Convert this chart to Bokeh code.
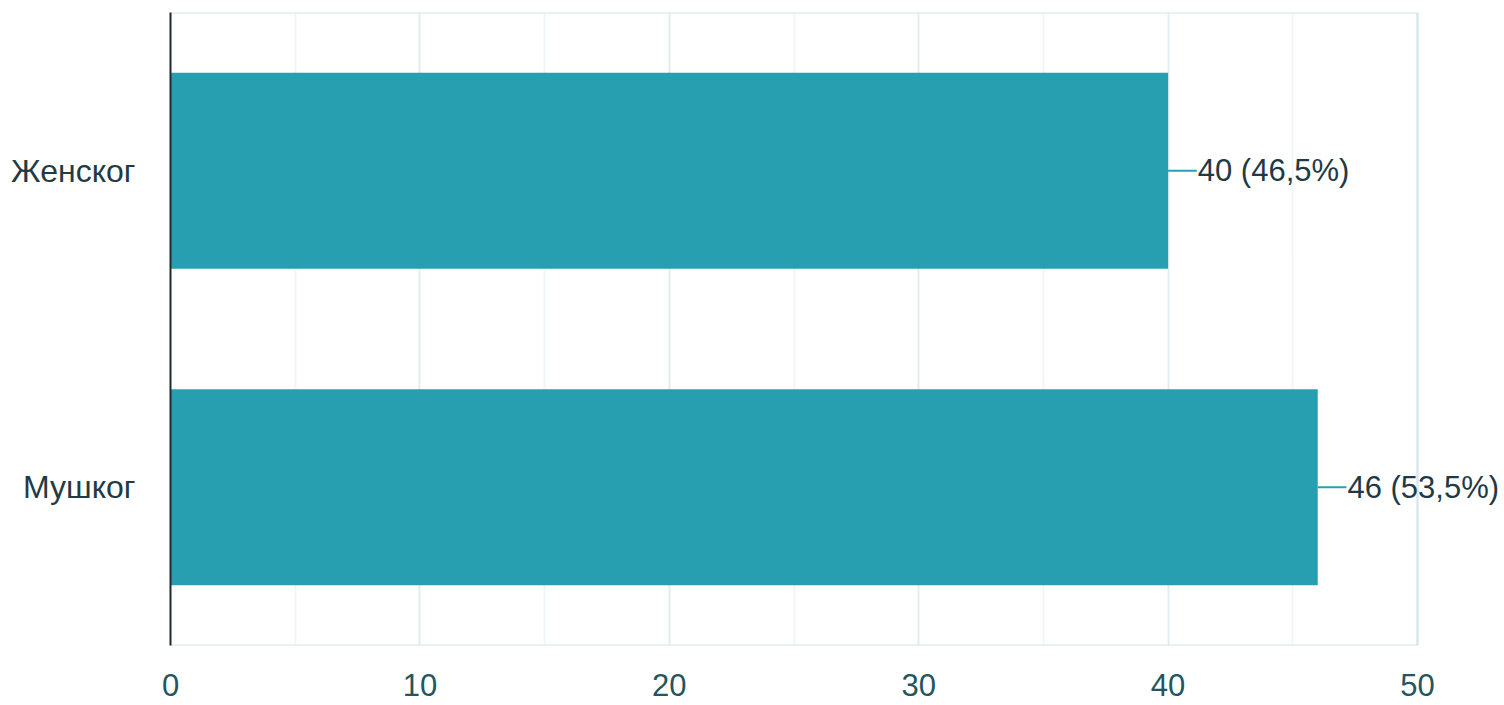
from bokeh.plotting import figure
from bokeh.models import FactorRange, Range1d, FixedTicker, ColumnDataSource, LabelSet
from bokeh.core.properties import value
from bokeh.embed import file_html
from bokeh.resources import INLINE

categories = ["Мушког", "Женског"]
counts = [46, 40]
labels = ["46 (53,5%)", "40 (46,5%)"]
x_ticks = [0, 10, 20, 30, 40, 50]
x_minor = [5, 15, 25, 35, 45]
x_max = 50

FONT = "Liberation Sans"
BAR = "#279fb1"
BORDER = "#d6e6ec"

src = ColumnDataSource(dict(cat=categories, cnt=counts, lab=labels,
                            lx=[c + 1.15 for c in counts]))

# frame extends past the axis end so the outside labels are not clipped
p = figure(width=1504, height=703, output_backend="svg", toolbar_location=None,
           y_range=FactorRange(factors=categories, range_padding=0),
           x_range=Range1d(0, x_max * 1334 / 1247),
           min_border_left=170, min_border_right=0, min_border_top=12, min_border_bottom=58)
p.background_fill_color = "#ffffff"
p.border_fill_color = "#ffffff"
p.outline_line_color = None

# plot-area border (top, right, bottom) up to x_max
n = len(categories)
p.segment(x0=[0, x_max, 0], x1=[x_max, x_max, x_max], y0=[n, 0, 0], y1=[n, n, 0],
          line_color=BORDER, line_width=2)

p.hbar(y="cat", right="cnt", left=0, height=0.62, source=src, color=BAR, line_color=None)
p.segment(x0="cnt", x1="lx", y0="cat", y1="cat", source=src, line_color=BAR, line_width=2)
p.add_layout(LabelSet(x="lx", y="cat", text="lab", source=src, x_offset=1,
                      text_font=value(FONT), text_font_size="31px", text_color="#1f3a44",
                      text_align="left", text_baseline="middle"))

p.xaxis.ticker = FixedTicker(ticks=x_ticks, minor_ticks=x_minor)
p.xaxis.axis_line_color = None
p.xaxis.major_tick_line_color = None
p.xaxis.minor_tick_line_color = None
p.xaxis.major_label_standoff = 22
p.xaxis.major_label_text_font = FONT
p.xaxis.major_label_text_font_size = "31px"
p.xaxis.major_label_text_color = "#245560"

p.yaxis.axis_line_color = "#1e2a2e"
p.yaxis.axis_line_width = 2
p.yaxis.major_tick_line_color = None
p.yaxis.minor_tick_line_color = None
p.yaxis.major_label_standoff = 29
p.yaxis.major_label_text_font = FONT
p.yaxis.major_label_text_font_size = "32px"
p.yaxis.major_label_text_color = "#1f3c45"

p.ygrid.grid_line_color = None
p.xgrid.grid_line_color = "#e3edf0"
p.xgrid.grid_line_width = 2
p.xgrid.minor_grid_line_color = "#f0f5f6"
p.xgrid.minor_grid_line_width = 2

open("out.html", "w").write(file_html(p, INLINE))
